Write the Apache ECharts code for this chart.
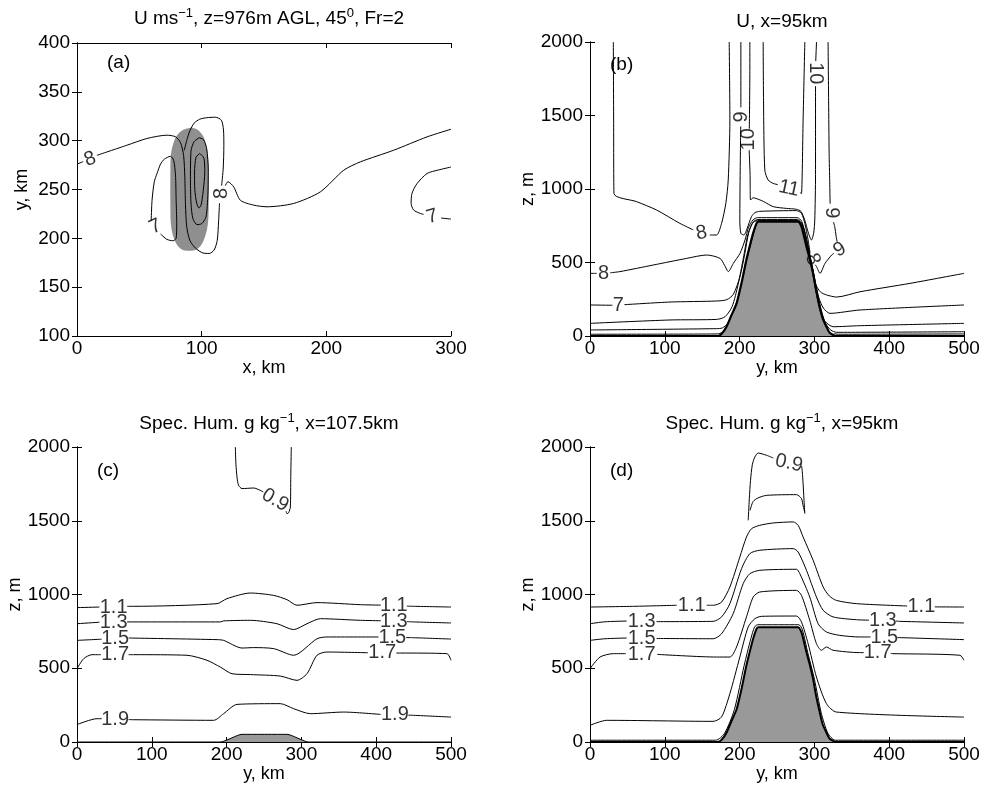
<!DOCTYPE html>
<html>
<head>
<meta charset="utf-8">
<script src="https://cdn.jsdelivr.net/npm/echarts@6/dist/echarts.min.js"></script>
<style>
  html, body { margin: 0; padding: 0; background: #fff; }
  #chart { width: 990px; height: 798px; }
</style>
</head>
<body>
<div id="chart"></div>
<script>
// ---- data ----
// (a) U at z=976m, plan view: x km, y km
const ridgeA = [[92,313.4],[97,311],[101,305],[103.5,296],[105,285],[105.6,270],[105.6,230],[105,215],[103,203],[99.5,193],[95,188],[90,187.3],[85,188],[80.5,193],[77,203],[75.3,215],[74.9,230],[74.9,270],[75.3,285],[77,296],[80,305],[85,311],[92,313.4]];
const a8main = [
  [[0,276],[5,278.5]],
  [[16,285],[40,295.3],[56,302.2],[72,305.6],[79,304],[83,298],[85.5,285],[86.5,262],[87,235],[88,212],[90.5,198],[95,190],[101,185],[106,184.5],[110,188],[112.5,198],[113.6,218],[114.3,236]]
];
const a8top = [[[116,254],[117.3,272],[117.8,295],[117.5,311],[115.8,321],[111,324],[104,323.5],[98.5,322],[94,318],[90.5,310],[88,300],[86,290]]];
const a8right = [[[119,254],[121,258],[125.7,252.7],[131,239],[141.7,234],[152.4,232.3],[173.8,235.7],[195.2,247.6],[214,269.8],[227.3,278.3],[254,290.2],[280.8,303.9],[300,311.7]]];
const aLoop2 = [[[98,303],[94,299],[91.5,290],[91,260],[91.5,235],[93,220],[96.3,214],[100,215],[103.5,222],[105,245],[105.3,270],[104,292],[101.5,301],[98,303]]];
const aLoop3 = [[[98.5,287],[95.5,283],[94.3,268],[94.5,250],[96,236],[97.8,231],[99.5,234],[101.2,248],[102.5,268],[101.8,282],[98.5,287]]];
const a7left = [[[59.5,218],[60.2,239],[62,258],[64.2,266.4],[67,276],[70,281],[75,284],[77.5,280],[79,265],[79.5,240],[80,215],[79.5,200],[77,197.5],[72,199],[67,204.5]]];
const a7right = [[[300,273],[290,270],[280.8,266.4],[272.7,256],[268.7,246],[268,236],[270,229],[275.4,225.5],[278,224.5]],[[292,220.8],[300,219.7]]];
const labelsA = [['8',10.5,281,20],['8',116,246,90],['7',63,212,25],['7',285,222,15]];

// (b) U at x=95km, section: y km, z m
const terrain = [[0,0],[171,0],[176,15],[182.5,63],[189,140],[196,222],[203,370],[209,517],[214,620],[218,698],[222.6,766],[225,778],[278,778],[282.7,744],[286,680],[289.4,608],[294,520],[298.3,426],[302,320],[307.2,200],[311,120],[316.1,63],[320,25],[325,7],[329.4,0],[500,0]];
const b8U = [
  [[31.2,2000],[31.6,1469],[32,970],[62.3,914],[89,857],[120.2,766],[138,722]],
  [[160,687],[169.2,687],[175.9,766],[181.6,902],[184.8,1061],[187,1469],[186.1,2000]]
];
const b9L = [
  [[201.7,2000],[201.7,1555]],
  [[201.5,1425],[200.8,1129],[200.3,789],[201.7,698],[205.7,687],[210.1,732],[215.9,812],[220.4,839],[227,848],[276,853],[282.7,834],[287.2,766],[291.6,653],[294.2,565]],
  [[301,485],[303,471],[307.5,426],[314.2,494],[323.1,551],[326,562]]
];
const b9R = [
  [[318.3,2000],[319,1600],[319.7,1243],[320.5,1050],[321,900]],
  [[325.5,775],[327.2,744],[329,680],[330.3,642]]
];
const b10 = [
  [[213.7,2000],[213.7,1800],[213,1410]],
  [[212.8,1265],[214,1100],[214.6,925],[218,940],[222,936],[232,915],[245,880],[262.7,868],[276,862],[282,848],[287,790],[292,700],[296.1,653],[299,700],[300.5,789],[301.5,1100],[301.5,1700]],
  [[301.8,1870],[302.8,2000]]
];
const b11 = [
  [[231.5,2000],[232,1600],[233.7,1129],[238.2,1061],[244.9,1038],[251,1030]],
  [[281,975],[282.7,970],[284.9,1469],[287.2,2000]]
];
const b8low = [
  [[0,426],[9,426]],
  [[27,430],[40,438],[84.7,483],[129.3,528],[156,551],[173.8,528],[180,480],[184.9,438],[191.6,494],[200.5,562],[207.2,653],[212,740],[218,790],[224,805],[277,805],[283,780],[290,650],[295,520],[299,420],[301,358],[308,300],[316.4,279],[329.8,265],[361,301],[427.8,358],[500,426]]
];
const b7 = [
  [[0,211],[30,209]],
  [[46,213],[107,231],[169.4,238],[182.8,247],[191.6,283],[200.5,404],[207,560],[212,700],[218,775],[224,792],[277,792],[284,760],[292,600],[300,400],[306,260],[312,190],[320.9,154],[361,177],[500,211]]
];
const b6 = [[[0,86],[107,109],[169.4,113],[180.5,131],[190,200],[198,350],[205,530],[211,690],[217,765],[224,787],[277,787],[284,752],[292,580],[300,360],[307,180],[314,100],[325.3,63],[360,70],[500,86]]];
const b5 = [[[0,41],[169,50],[177,55],[184,85],[197,245],[210,530],[219,705],[223.5,775],[226,784],[277,784],[282,760],[289,620],[298,440],[307,215],[315,85],[322,40],[330,25],[500,29]]];
const b4 = [[[0,12],[170,14],[176,22]],[[326,16],[332,12],[500,14]]];
const labelsB = [['8',18,426,0],['7',38,207,0],['8',149,700,10],['9',202,1490,90],['10',212,1338,90],['11',266,1003,-12],['10',301,1787,-90],['9',323.5,838,-90],['9',334,587,30],['8',297.7,522,-70]];

// (c) specific humidity at x=107.5km
const hillC = [[0,0],[191.6,0],[220.6,52],[280.7,52],[309.7,0],[500,0]];
const c09 = [
  [[211.7,2000],[212.5,1880],[213.9,1797],[216,1740],[220.6,1718],[236.2,1722],[245.1,1706],[249,1695]],
  [[279.5,1565],[280.7,1548],[283,1555],[285.2,1593],[285.8,1800],[286.5,2000]]
];
const c11 = [
  [[0,911],[30,915]],
  [[67,920],[75.8,920],[187.2,938],[200.5,972],[231.7,1010],[262.9,994],[280.7,965],[294.1,927],[320.8,945],[378.8,931],[406,928]],
  [[441,921],[450,920],[500,915]]
];
const c13 = [
  [[0,802],[30,812]],
  [[67,814],[191.6,814],[196,821],[231.7,825],[267.3,802],[289.6,762],[307.5,802],[325.3,836],[378.8,825],[406,822]],
  [[441,816],[450,814],[500,807]]
];
const c15 = [
  [[0,689],[33,697]],
  [[69,705],[187.2,694],[196,689],[220.6,637],[236.2,640],[262.9,633],[289.6,588],[320.8,700],[334.2,712],[403,712]],
  [[440,708],[450,707],[500,698]]
];
const c17 = [
  [[0,497],[8.9,565],[20,592],[32,592]],
  [[69,592],[75.8,592],[147,588],[173.8,554],[191.6,508],[207.2,463],[231.7,457],[271.8,447],[294.1,418],[307.5,463],[320.8,588],[334.2,610],[389,605]],
  [[427,603],[432.2,603],[494.6,599],[500,554]]
];
const c19 = [
  [[0,118],[26.7,158],[33,158]],
  [[69,152],[75.8,151],[182.7,147],[196,192],[213.9,255],[271.8,260],[289.6,226],[311.9,192],[356.5,203],[406,187]],
  [[443,182],[450,181],[500,169]]
];
const labelsC = [['0.9',265,1640,-30],['1.1',49,915,0],['1.1',423.5,926,0],['1.3',49,812,0],['1.3',423.5,820,0],['1.5',51,700,0],['1.5',421.5,711,0],['1.7',51,592,0],['1.7',408,604,0],['1.9',51,152,0],['1.9',425,185,0]];

// (d) specific humidity at x=95km
const d09 = [
  [[211.5,1503],[213,1650],[214.6,1774],[217,1880],[220.4,1932],[224.8,1959],[236,1944],[245,1925]],
  [[283,1870],[283.8,1831],[284.9,1752],[286,1650],[287.2,1548]]
];
const d10 = [[[214,1570],[218,1630],[224.8,1655],[235.9,1672],[276,1677],[282.7,1650],[285,1600],[287,1560]]];
const d11 = [
  [[0,915],[60,920],[116,927]],
  [[156,927],[165,927],[176,949],[187,1051],[200.3,1254],[209.2,1390],[215.9,1446],[227,1469],[244.9,1485],[271.6,1492],[278.3,1469],[284.9,1390],[298.3,1232],[311.7,1051],[320,990],[329.4,960],[356.2,938],[424,922]],
  [[461,916],[500,915]]
];
const d13 = [
  [[0,802],[20,815],[49,820]],
  [[89,816],[164.7,818],[175.9,848],[187,938],[202.6,1175],[213.7,1277],[227,1300],[271.6,1311],[278.3,1288],[289.4,1164],[302.7,983],[311.7,893],[325,848],[356.2,829],[373,826]],
  [[409,820],[414,818],[500,807]]
];
const d15 = [
  [[0,689],[20,700],[49,705]],
  [[89,702],[164.7,700],[175.9,734],[191.4,870],[204.8,1074],[213.7,1141],[227,1164],[276,1171],[280.5,1141],[293.8,983],[305,802],[316.1,746],[333.9,723],[360.6,712],[375,712]],
  [[411,708],[418.5,707],[500,694]]
];
const d17 = [
  [[0,497],[13.4,576],[31.2,599],[48,599]],
  [[90,594],[169.2,576],[187,576],[195.9,644],[209.2,848],[218.2,983],[227,1017],[276,1028],[282.7,994],[293.8,825],[302.7,667],[309.4,622],[316.1,644],[325,622],[360.6,606],[366,606]],
  [[402,601],[405,599],[494.6,588],[500,554]]
];
const d19 = [[[0,113],[22.3,147],[164.7,140],[175.9,170],[187,328],[200.3,576],[211.5,780],[220.4,836],[229.3,852],[276,854],[282.7,814],[291.6,667],[302.7,441],[316.1,260],[329.4,203],[500,169]]];
const d21 = [[[0,12],[168,12],[180,60],[193,220],[206,517],[215,700],[220,780],[224,795],[279,795],[284,760],[291,608],[300,426],[309,200],[318,60],[328,12],[500,12]]];
const labelsD = [['0.9',266,1890,-12],['1.1',136,927,0],['1.1',443,916,0],['1.3',69,814,0],['1.3',391.5,824,0],['1.5',69,702,0],['1.5',393.5,710,0],['1.7',69,594,0],['1.7',384.5,604,0]];

const xTicksA = [0, 300, 100];
const yTicksA = [100, 400, 50];
const xTicksS = [0, 500, 100];
const yTicksS = [0, 2000, 500];

// ---- chart ----
const FONT = 'Liberation Sans, Arial, Helvetica, sans-serif';
const grids = [
  { left: 77, top: 43, width: 374, height: 293 },
  { left: 590, top: 42, width: 374, height: 294 },
  { left: 77, top: 447, width: 374, height: 295 },
  { left: 590, top: 447, width: 374, height: 295 },
];

const xAxes = [];
const yAxes = [];
function addAxes(gi, xt, yt, xname, yname) {
  const line = { show: true, lineStyle: { color: '#000', width: 1 } };
  const tick = { show: true, inside: true, length: 5, lineStyle: { color: '#000' } };
  const lbl = { color: '#000', fontSize: 19, fontFamily: FONT, formatter: (v) => String(v) };
  xAxes.push({
    gridIndex: gi, type: 'value', position: 'bottom', min: xt[0], max: xt[1], interval: xt[2],
    axisLine: line, axisTick: tick, splitLine: { show: false },
    axisLabel: Object.assign({ margin: 3 }, lbl),
    name: xname, nameLocation: 'middle', nameGap: 20,
    nameTextStyle: { color: '#000', fontSize: 18, fontFamily: FONT, verticalAlign: 'top' },
  });
  xAxes.push({
    gridIndex: gi, type: 'value', position: 'top', min: xt[0], max: xt[1], interval: xt[2],
    axisLine: line, axisTick: tick, splitLine: { show: false }, axisLabel: { show: false },
  });
  yAxes.push({
    gridIndex: gi, type: 'value', position: 'left', min: yt[0], max: yt[1], interval: yt[2],
    axisLine: line, axisTick: tick, splitLine: { show: false },
    axisLabel: Object.assign({ margin: 7 }, lbl),
    name: yname, nameLocation: 'middle', nameGap: 46, nameRotate: 90,
    nameTextStyle: { color: '#000', fontSize: 18, fontFamily: FONT },
  });
  yAxes.push({
    gridIndex: gi, type: 'value', position: 'right', min: yt[0], max: yt[1], interval: yt[2],
    axisLine: line, axisTick: tick, splitLine: { show: false }, axisLabel: { show: false },
  });
}
addAxes(0, xTicksA, yTicksA, 'x, km', 'y, km');
addAxes(1, xTicksS, yTicksS, 'y, km', 'z, m');
addAxes(2, xTicksS, yTicksS, 'y, km', 'z, m');
addAxes(3, xTicksS, yTicksS, 'y, km', 'z, m');

const series = [];
function contour(gi, segs, width) {
  segs.forEach((seg) => {
    series.push({
      type: 'line', xAxisIndex: 2 * gi, yAxisIndex: 2 * gi, data: seg,
      showSymbol: false, symbol: 'none', smooth: 0.25, silent: true, z: 3,
      lineStyle: { color: '#000', width: width || 1 },
    });
  });
}
function hill(gi, pts, color, width) {
  series.push({
    type: 'line', xAxisIndex: 2 * gi, yAxisIndex: 2 * gi, data: pts,
    showSymbol: false, symbol: 'none', smooth: 0.2, silent: true, z: 2,
    lineStyle: { color: '#000', width: width },
    areaStyle: { color: color, opacity: 1, origin: 'start' },
  });
}
function labels(gi, list) {
  series.push({
    type: 'scatter', xAxisIndex: 2 * gi, yAxisIndex: 2 * gi, symbolSize: 0, silent: true, z: 5,
    data: list.map((l) => ({ name: l[0], value: [l[1], l[2]], label: { rotate: l[3] } })),
    label: { show: true, position: 'inside', formatter: '{b}', color: '#000', fontSize: 20, fontFamily: FONT },
  });
}

// (a)
series.push({
  type: 'custom', xAxisIndex: 0, yAxisIndex: 0, data: ridgeA, silent: true, z: 1,
  renderItem: (params, api) => {
    if (params.dataIndex !== 0) return null;
    const pts = ridgeA.map((p) => api.coord(p));
    return { type: 'polygon', shape: { points: pts, smooth: 0.35 }, style: { fill: '#8f8f8f' } };
  },
});
[a8main, a8top, a8right, aLoop2, aLoop3, a7left, a7right].forEach((s) => contour(0, s));
labels(0, labelsA);

// (b)
hill(1, terrain, '#999999', 2.2);
[b8U, b9L, b9R, b10, b11, b8low, b7, b6, b5, b4].forEach((s) => contour(1, s));
labels(1, labelsB);

// (c)
hill(2, hillC, '#999999', 1);
[c09, c11, c13, c15, c17, c19].forEach((s) => contour(2, s));
labels(2, labelsC);

// (d)
hill(3, terrain, '#999999', 2);
[d09, d10, d11, d13, d15, d17, d19, d21].forEach((s) => contour(3, s));
labels(3, labelsD);

const titleStyle = {
  color: '#000', fontSize: 19, fontWeight: 'normal', fontFamily: FONT,
  rich: { s: { fontSize: 13, fontFamily: FONT, color: '#000', verticalAlign: 'bottom', padding: [0, 0, 10, 0] } },
};
const panelText = (x, y, t) => ({ type: 'text', left: x, top: y, style: { text: t, fill: '#000', font: '19px ' + FONT } });

const chart = echarts.init(document.getElementById('chart'));
chart.setOption({
  animation: false,
  backgroundColor: '#fff',
  title: [
    { text: 'U ms{s|−1}, z=976m AGL, 45{s|0}, Fr=2', left: 264, top: 2, textAlign: 'center', textStyle: titleStyle },
    { text: 'U, x=95km', left: 777, top: 7, textAlign: 'center', textStyle: titleStyle },
    { text: 'Spec. Hum. g kg{s|−1}, x=107.5km', left: 264, top: 407, textAlign: 'center', textStyle: titleStyle },
    { text: 'Spec. Hum. g kg{s|−1}, x=95km', left: 777, top: 407, textAlign: 'center', textStyle: titleStyle },
  ],
  grid: grids,
  xAxis: xAxes,
  yAxis: yAxes,
  series: series,
  graphic: [
    panelText(107, 53, '(a)'),
    panelText(610, 55, '(b)'),
    panelText(97, 461, '(c)'),
    panelText(610, 461, '(d)'),
  ],
});
</script>
</body>
</html>
